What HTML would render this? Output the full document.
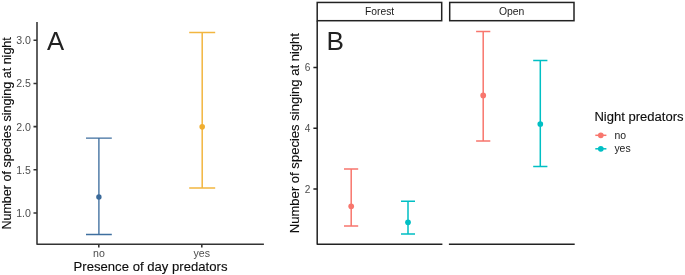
<!DOCTYPE html>
<html><head><meta charset="utf-8">
<style>
html,body{margin:0;padding:0;background:#fff;}
svg{display:block;font-family:"Liberation Sans",Arial,sans-serif;}
</style></head><body>
<svg width="685" height="275" viewBox="0 0 685 275">
<rect width="685" height="275" fill="#fff"/>
<!-- Panel A -->
<g stroke="#333" stroke-width="1.55" fill="none">
<path stroke-linejoin="round" d="M37 22V244.3H263.9"/>
<path d="M33.5 40.2H37M33.5 83.4H37M33.5 126.6H37M33.5 169.8H37M33.5 213H37"/>
<path d="M98.8 244.3V247.5M201.8 244.3V247.4"/>
</g>
<g fill="#4d4d4d" font-size="10.6" text-anchor="end">
<text transform="translate(30.9,44.25) scale(1,0.955)">3.0</text>
<text transform="translate(30.9,87.45) scale(1,0.955)">2.5</text>
<text transform="translate(30.9,130.65) scale(1,0.955)">2.0</text>
<text transform="translate(30.9,173.85) scale(1,0.955)">1.5</text>
<text transform="translate(30.9,217.05) scale(1,0.955)">1.0</text>
</g>
<g fill="#4d4d4d" font-size="10.6" text-anchor="middle">
<text transform="translate(98.9,257.05) scale(1,0.955)">no</text>
<text transform="translate(201.8,257.05) scale(1,0.955)">yes</text>
</g>
<text transform="translate(150.5,271.2) scale(1,0.955)" font-size="13.14" text-anchor="middle" fill="#0d0d0d" stroke="#0d0d0d" stroke-width="0.12">Presence of day predators</text>
<text transform="translate(10.9,133.4) scale(1,0.955) rotate(-90)" font-size="13.15" text-anchor="middle" fill="#0d0d0d" stroke="#0d0d0d" stroke-width="0.12">Number of species singing at night</text>
<text x="47" y="50.2" font-size="25.7" fill="#222">A</text>
<g stroke="#3f6f9f" stroke-width="1.35" fill="none">
<path d="M86 138.1H111.8M98.9 138.1V234.5M86 234.5H111.8"/>
</g>
<circle cx="98.9" cy="196.95" r="2.7" fill="#3b6a9a"/>
<g stroke="#f2b640" stroke-width="1.5" fill="none">
<path d="M189.2 32.5H215.2M202.2 32.5V188M189.2 188H215.2"/>
</g>
<circle cx="202.2" cy="126.85" r="2.8" fill="#f0ae30"/>

<!-- Panel B -->
<g stroke="#222" stroke-width="1.5" fill="none">
<rect x="317.2" y="2.45" width="124.5" height="18.25" fill="#fff"/>
<rect x="449.7" y="2.45" width="124.3" height="18.25" fill="#fff"/>
<path stroke-linejoin="round" d="M317.2 20.7V244.3H442.4M448.9 244.3H574.7"/>
<path d="M313.4 67.5H317.2M313.4 128.2H317.2M313.4 188.9H317.2"/>
</g>
<g fill="#1a1a1a" font-size="10.4" text-anchor="middle">
<text x="379.6" y="15.45" font-size="10.3">Forest</text>
<text x="511.6" y="15.45">Open</text>
</g>
<g fill="#4d4d4d" font-size="10.1" text-anchor="end">
<text x="310.4" y="71.25">6</text>
<text x="310.4" y="131.95">4</text>
<text x="310.4" y="192.85">2</text>
</g>
<text transform="translate(299.1,133.1) rotate(-90)" font-size="13.05" text-anchor="middle" fill="#0d0d0d" stroke="#0d0d0d" stroke-width="0.12">Number of species singing at night</text>
<text transform="translate(326.5,50.2) scale(1,0.98)" font-size="26.2" fill="#222">B</text>
<g stroke="#f8766d" stroke-width="1.5" fill="none">
<path d="M344 169H358.2M351.2 169V226.1M344 226.1H358.2"/>
<path d="M476.1 31.6H490.3M483.2 31.6V140.95M476.1 140.95H490.3"/>
<path d="M595.3 135.3H606.4"/>
</g>
<g fill="#f8766d">
<circle cx="351.2" cy="206.3" r="2.85"/>
<circle cx="483.2" cy="95.4" r="2.85"/>
<circle cx="600.8" cy="135.3" r="2.85"/>
</g>
<g stroke="#00bfc4" stroke-width="1.5" fill="none">
<path d="M401 201.3H415M408 201.3V234M401 234H415"/>
<path d="M533.2 60.5H547.4M540.3 60.5V166.5M533.2 166.5H547.4"/>
<path d="M595.3 148.8H606.4"/>
</g>
<g fill="#00bfc4">
<circle cx="408" cy="222.3" r="2.85"/>
<circle cx="540.3" cy="124" r="2.85"/>
<circle cx="600.8" cy="148.8" r="2.85"/>
</g>
<text x="594.4" y="121.4" font-size="13.05" fill="#0d0d0d" stroke="#0d0d0d" stroke-width="0.12">Night predators</text>
<g fill="#1a1a1a" font-size="10.45">
<text x="614.4" y="138.9">no</text>
<text x="614.4" y="152.2">yes</text>
</g>
</svg>
</body></html>
